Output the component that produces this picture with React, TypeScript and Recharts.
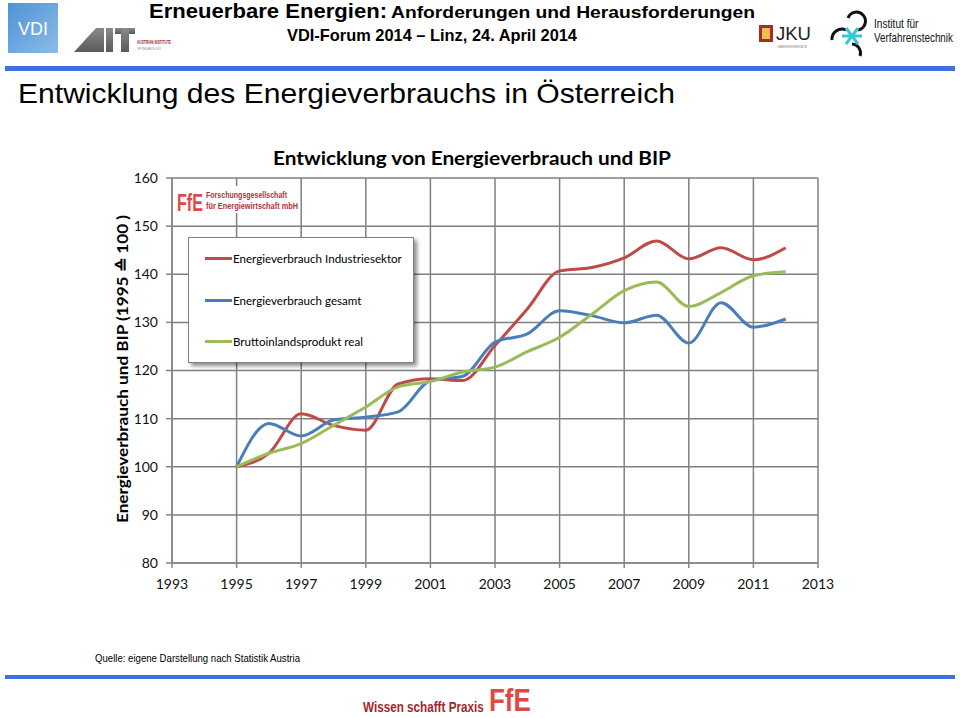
import React from 'react';
import { LineChart, Line, XAxis, YAxis, CartesianGrid, Legend } from 'recharts';

// Jahre und Indexwerte (1995 = 100)
const years = [1995, 1996, 1997, 1998, 1999, 2000, 2001, 2002, 2003, 2004, 2005, 2006, 2007, 2008, 2009, 2010, 2011, 2012];
const industrie = [100, 102.8, 111.0, 108.6, 107.6, 117.2, 118.3, 117.9, 125.2, 132.8, 140.7, 141.4, 143.4, 146.9, 143.2, 145.5, 143.0, 145.5];
const gesamt = [100, 109.0, 106.4, 109.7, 110.3, 111.4, 117.9, 118.8, 125.9, 127.6, 132.4, 131.4, 129.9, 131.5, 125.7, 134.1, 129.0, 130.7];
const bip = [100, 102.8, 104.8, 108.6, 112.4, 116.6, 117.7, 119.7, 120.7, 123.9, 126.9, 131.7, 136.6, 138.4, 133.3, 136.2, 139.7, 140.5];

// Achsenbeschriftung
const xTicks = [1993, 1995, 1997, 1999, 2001, 2003, 2005, 2007, 2009, 2011, 2013];
const yTicks = [80, 90, 100, 110, 120, 130, 140, 150, 160];

// Reihenfolge in der Legende
const seriesOrder = ['industrie', 'gesamt', 'bip'];

const data = years.map((year, i) => ({
  year,
  industrie: industrie[i],
  gesamt: gesamt[i],
  bip: bip[i],
}));

const chartFont = 'Lato, "Open Sans", sans-serif';
const slideFont = '"Liberation Sans", Arial, sans-serif';

// Legendenkasten mit Schatten
const renderLegend = (props: any) => {
  const items = [...(props.payload || [])].sort(
    (a: any, b: any) => seriesOrder.indexOf(a.dataKey) - seriesOrder.indexOf(b.dataKey)
  );
  return (
    <div
      style={{
        width: 226,
        height: 126,
        boxSizing: 'border-box',
        background: '#fff',
        border: '1px solid #808080',
        boxShadow: '3px 3px 4px rgba(0,0,0,0.45)',
        fontFamily: chartFont,
      }}
    >
      {items.map((entry: any) => (
        <div key={entry.value} style={{ display: 'flex', alignItems: 'center', height: 41.5 }}>
          <span style={{ display: 'inline-block', width: 27, height: 3, marginLeft: 16, background: entry.color }} />
          <span style={{ fontSize: 11.6, color: '#000', marginLeft: 1, whiteSpace: 'nowrap' }}>{entry.value}</span>
        </div>
      ))}
    </div>
  );
};

// Kopf- und Fußzeile der Folie
const SlideFrame = () => (
  <svg width={960} height={718} style={{ position: 'absolute', left: 0, top: 0 }}>
    <defs>
      <linearGradient id="vdi" x1="0" y1="0" x2="1" y2="1">
        <stop offset="0" stopColor="#4f93d6" />
        <stop offset="1" stopColor="#8cbbe8" />
      </linearGradient>
      <linearGradient id="ait" x1="0" y1="0" x2="0" y2="1">
        <stop offset="0" stopColor="#8a8a8a" />
        <stop offset="1" stopColor="#5a5a5a" />
      </linearGradient>
    </defs>
    {/* VDI */}
    <rect x={8} y={3} width={50} height={50} fill="url(#vdi)" />
    <text x={33} y={35} textAnchor="middle" fill="#fff" fontFamily={slideFont} fontSize={19} textLength={30} lengthAdjust="spacingAndGlyphs">VDI</text>
    {/* AIT */}
    <polygon points="74,52 96,28 104,28 104,52" fill="url(#ait)" />
    <rect x={106} y={28} width={7} height={24} fill="url(#ait)" />
    <rect x={115} y={28} width={20} height={6} fill="url(#ait)" />
    <rect x={121} y={28} width={8} height={24} fill="url(#ait)" />
    <text x={137} y={44} fontFamily={slideFont} fontSize={5} fill="#9c2b2b" fontWeight="bold" textLength={34} lengthAdjust="spacingAndGlyphs">AUSTRIAN INSTITUTE</text>
    <text x={137} y={50} fontFamily={slideFont} fontSize={4} fill="#777" textLength={24} lengthAdjust="spacingAndGlyphs">OF TECHNOLOGY</text>
    {/* Tagungstitel */}
    <text x={149} y={18} fontFamily={slideFont} fontWeight="bold" fontSize={19.5} fill="#000" textLength={238} lengthAdjust="spacingAndGlyphs">
      Erneuerbare Energien:
    </text>
    <text x={391} y={18} fontFamily={slideFont} fontWeight="bold" fontSize={17} fill="#000" textLength={364} lengthAdjust="spacingAndGlyphs">
      Anforderungen und Herausforderungen
    </text>
    <text x={287} y={41} fontFamily={slideFont} fontWeight="bold" fontSize={17} fill="#000" textLength={290} lengthAdjust="spacingAndGlyphs">
      VDI-Forum 2014 – Linz, 24. April 2014
    </text>
    {/* JKU */}
    <rect x={759} y={25} width={14} height={17} fill="#b0282c" />
    <rect x={762} y={28} width={8} height={11} fill="#e8c34a" />
    <text x={776} y={40} fontFamily={slideFont} fontSize={19} fill="#222" textLength={35} lengthAdjust="spacingAndGlyphs">JKU</text>
    <text x={777} y={48} fontFamily={slideFont} fontSize={3.5} fill="#666" textLength={30} lengthAdjust="spacingAndGlyphs">JOHANNES KEPLER UNIVERSITÄT LINZ</text>
    {/* Institut für Verfahrenstechnik */}
    <path d="M 848 18 A 9 9 0 1 1 858 30" fill="none" stroke="#111" strokeWidth={3} />
    <path d="M 832 40 A 10 10 0 0 1 846 30" fill="none" stroke="#111" strokeWidth={3} />
    <path d="M 852 44 A 9 9 0 0 1 860 56" fill="none" stroke="#111" strokeWidth={3} />
    <g stroke="#37c6d8" strokeWidth={3}>
      <line x1={842} y1={36} x2={862} y2={36} />
      <line x1={846} y1={28} x2={858} y2={44} />
      <line x1={846} y1={44} x2={858} y2={28} />
    </g>
    <text transform="translate(874 28) scale(0.78 1)" fontFamily={slideFont} fontSize={13} fill="#111">Institut für</text>
    <text transform="translate(874 42) scale(0.76 1)" fontFamily={slideFont} fontSize={13} fill="#111">Verfahrenstechnik</text>
    {/* Trennlinien */}
    <rect x={5} y={66} width={950} height={5} fill="#3f6fe0" />
    <rect x={5} y={675} width={950} height={4} fill="#3f6fe0" />
    {/* Folientitel */}
    <text x={18} y={103} fontFamily={slideFont} fontSize={28} fill="#000" textLength={657} lengthAdjust="spacingAndGlyphs">
      Entwicklung des Energieverbrauchs in Österreich
    </text>
    {/* Diagrammtitel */}
    <text x={273} y={165} fontFamily={chartFont} fontWeight="bold" fontSize={19} fill="#000" textLength={398} lengthAdjust="spacingAndGlyphs">
      Entwicklung von Energieverbrauch und BIP
    </text>
    {/* Y-Achsentitel */}
    <text
      x={128}
      y={369}
      transform="rotate(-90 128 369)"
      textAnchor="middle"
      fontFamily={chartFont}
      fontWeight="bold"
      fontSize={15.5}
      fill="#000"
      textLength={308}
      lengthAdjust="spacingAndGlyphs"
    >
      Energieverbrauch und BIP (1995 ≙ 100 )
    </text>
    {/* Quelle */}
    <text x={95} y={662} fontFamily={slideFont} fontSize={11} fill="#000" textLength={205} lengthAdjust="spacingAndGlyphs">
      Quelle: eigene Darstellung nach Statistik Austria
    </text>
    {/* Fußzeile */}
    <text transform="translate(363 712) scale(0.78 1)" fontFamily={slideFont} fontWeight="bold" fontSize={15} fill="#a3262c">
      Wissen schafft Praxis
    </text>
    <text transform="translate(489 711) scale(1.18 1.45)" fontFamily={slideFont} fontWeight="bold" fontSize={22} fill="#e04a45">FfE</text>
  </svg>
);

// FfE-Logo oben links im Diagramm
const FfeLogo = () => (
  <svg width={960} height={718} style={{ position: 'absolute', left: 0, top: 0, pointerEvents: 'none' }}>
    <rect x={176} y={186} width={124} height={27} fill="#fff" />
    <text transform="translate(177 211) scale(1 1.45)" fontFamily={slideFont} fontWeight="bold" fontSize={16.5} fill="#e04a45" textLength={26} lengthAdjust="spacingAndGlyphs">FfE</text>
    <text x={206} y={198} fontFamily={slideFont} fontWeight="bold" fontSize={9} fill="#b3333a" textLength={81} lengthAdjust="spacingAndGlyphs">Forschungsgesellschaft</text>
    <text x={206} y={209} fontFamily={slideFont} fontWeight="bold" fontSize={9} fill="#b3333a" textLength={92} lengthAdjust="spacingAndGlyphs">für Energiewirtschaft mbH</text>
  </svg>
);

export default function App() {
  return (
    <div style={{ position: 'absolute', left: 0, top: 0, width: 960, height: 718, background: '#fff', overflow: 'hidden' }}>
      <SlideFrame />
      <div style={{ position: 'absolute', left: 0, top: 0 }}>
        <LineChart width={960} height={640} data={data} margin={{ top: 178, right: 142, left: 112, bottom: 47 }}>
          <CartesianGrid stroke="#808080" strokeWidth={1.5} horizontalValues={yTicks} verticalValues={xTicks} />
          <XAxis
            dataKey="year"
            type="number"
            domain={[1993, 2013]}
            ticks={xTicks}
            interval={0}
            height={30}
            stroke="#868686"
            strokeWidth={1.5}
            tickSize={5}
            tickMargin={11}
            tick={{ fill: '#111', fontSize: 14, fontFamily: chartFont }}
          />
          <YAxis
            type="number"
            domain={[80, 160]}
            ticks={yTicks}
            interval={0}
            width={60}
            stroke="#868686"
            strokeWidth={1.5}
            tickSize={6}
            tickMargin={8}
            tick={{ fill: '#111', fontSize: 14, fontFamily: chartFont }}
          />
          <Legend
            layout="vertical"
            align="center"
            verticalAlign="middle"
            itemSorter={(item: any) => seriesOrder.indexOf(item.dataKey)}
            content={renderLegend}
            wrapperStyle={{ position: 'absolute', left: 188, top: 237, width: 226, height: 126 }}
          />
          <Line name="Energieverbrauch Industriesektor" dataKey="industrie" type="monotone" stroke="#be4b48" strokeWidth={3} dot={false} isAnimationActive={false} />
          <Line name="Energieverbrauch gesamt" dataKey="gesamt" type="monotone" stroke="#4a7ebb" strokeWidth={3} dot={false} isAnimationActive={false} />
          <Line name="Bruttoinlandsprodukt real" dataKey="bip" type="monotone" stroke="#9bbb59" strokeWidth={3} dot={false} isAnimationActive={false} />
        </LineChart>
      </div>
      <FfeLogo />
    </div>
  );
}
